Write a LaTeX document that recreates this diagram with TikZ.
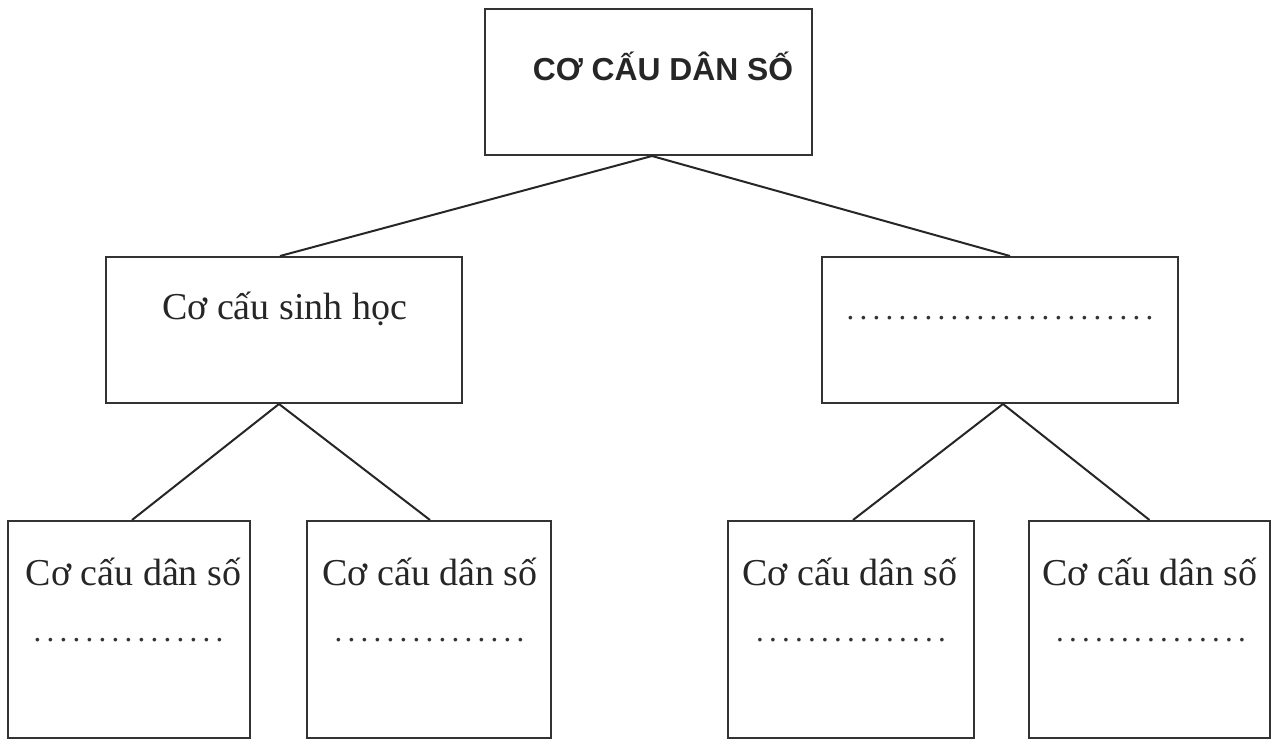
\documentclass[tikz,border=0pt]{standalone}
\usepackage{fontspec}
\setmainfont{Liberation Serif}
\newfontfamily\headfont{Liberation Sans}

% a row of n leader dots, evenly spaced
\newcommand\dotrow[1]{\foreach \i in {1,...,#1}{\makebox[6.5pt]{.}}}

\begin{document}
\begin{tikzpicture}[x=0.5pt,y=-0.5pt,
  cbox/.style={draw=black!80, line width=1pt, rectangle, inner sep=0pt},
  link/.style={draw=black!85, line width=1pt},
  label/.style={anchor=base, inner sep=0pt, text=black!85,
    font=\fontsize{19}{22}\selectfont},
  dots/.style={anchor=base, inner sep=0pt, text=black!80,
    font=\fontsize{15.5}{18}\selectfont},
  headlabel/.style={anchor=base, inner sep=0pt, text=black!85,
    font=\headfont\bfseries\fontsize{15.9}{19}\selectfont}]

\useasboundingbox (0,0) rectangle (1276,740);

% boxes
\node[cbox, minimum width=163.5pt, minimum height=73pt] (top) at (648.5,82) {};
\node[cbox, minimum width=178pt, minimum height=73pt] (bio) at (284,330) {};
\node[cbox, minimum width=178pt, minimum height=73pt] (oth) at (1000,330) {};
\node[cbox, minimum width=121pt, minimum height=108.5pt] (b1) at (129,629.5) {};
\node[cbox, minimum width=122pt, minimum height=108.5pt] (b2) at (429,629.5) {};
\node[cbox, minimum width=123pt, minimum height=108.5pt] (b3) at (851,629.5) {};
\node[cbox, minimum width=120.5pt, minimum height=108.5pt] (b4) at (1149.5,629.5) {};

% texts
\node[headlabel] (tt) at (663,80) {CƠ CẤU DÂN SỐ};
\node[label] (biot) at (284.5,319) {Cơ cấu sinh học};
\node[dots] (otht) at (1000,319) {\dotrow{24}};

\node[label] (b1t) at (133.5,585) {Cơ cấu dân số};
\node[label] (b2t) at (430,585) {Cơ cấu dân số};
\node[label] (b3t) at (850,585) {Cơ cấu dân số};
\node[label] (b4t) at (1150,585) {Cơ cấu dân số};

\node[dots] (b1d) at (128.5,641) {\dotrow{15}};
\node[dots] (b2d) at (429.5,641) {\dotrow{15}};
\node[dots] (b3d) at (851,641) {\dotrow{15}};
\node[dots] (b4d) at (1151,641) {\dotrow{15}};

% connectors
\draw[link] ([xshift=1.75pt]top.south) -- ([xshift=-2pt]bio.north);
\draw[link] ([xshift=1.75pt]top.south) -- ([xshift=5pt]oth.north);
\draw[link] ([xshift=-2.5pt]bio.south) -- ([xshift=1.5pt]b1.north);
\draw[link] ([xshift=-2.5pt]bio.south) -- ([xshift=0.5pt]b2.north);
\draw[link] ([xshift=1.5pt]oth.south) -- ([xshift=1pt]b3.north);
\draw[link] ([xshift=1.5pt]oth.south) -- (b4.north);
\end{tikzpicture}
\end{document}
